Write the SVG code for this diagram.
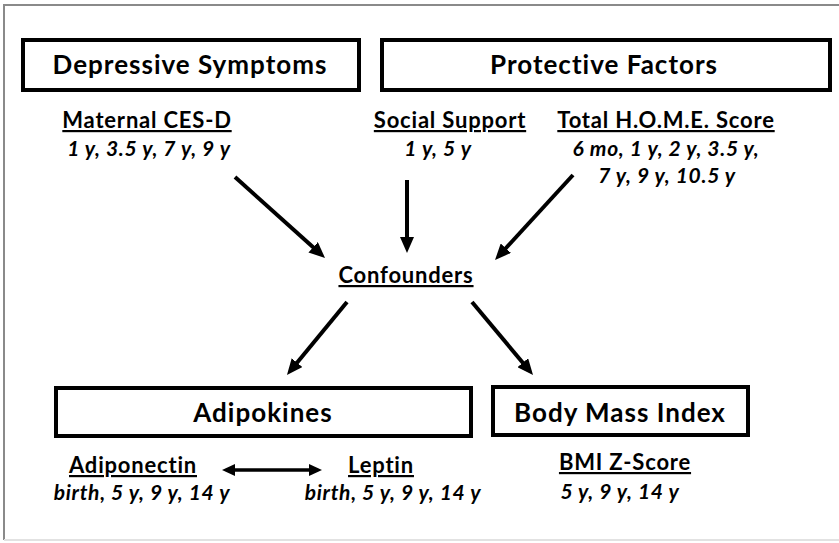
<svg xmlns="http://www.w3.org/2000/svg" width="839" height="543" viewBox="0 0 839 543">
<defs>
<style>
.box{fill:#fff;stroke:#000;stroke-width:4}
.title{font-family:Lato,"Open Sans",sans-serif;font-weight:bold;font-size:26px;letter-spacing:1px;fill:#000;text-anchor:middle}
.lab{font-family:Lato,"Open Sans",sans-serif;font-weight:bold;font-size:22px;letter-spacing:0.8px;fill:#000;text-anchor:middle;text-decoration:underline}
.sub{font-family:Lato,"Open Sans",sans-serif;font-weight:bold;font-style:italic;font-size:21px;letter-spacing:0.7px;fill:#000;text-anchor:middle}
.conn line{stroke:#000;stroke-width:4;fill:none}
</style>
<marker id="ah" viewBox="0 0 16 14" refX="6" refY="7" markerWidth="16" markerHeight="14" markerUnits="userSpaceOnUse" orient="auto-start-reverse">
<path d="M0,0 L16,7 L0,14 Z" fill="#000"/>
</marker>
<marker id="ah2" viewBox="0 0 13 12" refX="5" refY="6" markerWidth="13" markerHeight="12" markerUnits="userSpaceOnUse" orient="auto-start-reverse">
<path d="M0,0 L13,6 L0,12 Z" fill="#000"/>
</marker>
</defs>
<rect x="0" y="0" width="839" height="543" fill="#fff"/>
<path d="M839,5 H4 V540" fill="none" stroke="#8a8a8a" stroke-width="2"/>
<path d="M4,540 H839" fill="none" stroke="#e2e2e2" stroke-width="2"/>
<g id="depressive">
<rect class="box" x="23" y="40" width="336" height="50"/>
<text class="title" x="190" y="74">Depressive Symptoms</text>
</g>
<g id="protective">
<rect class="box" x="382" y="40" width="448" height="50"/>
<text class="title" x="604" y="74">Protective Factors</text>
</g>
<g id="cesd">
<text class="lab" x="147" y="128">Maternal CES-D</text>
<text class="sub" x="149" y="156">1 y, 3.5 y, 7 y, 9 y</text>
</g>
<g id="social">
<text class="lab" x="450" y="128">Social Support</text>
<text class="sub" x="438" y="156">1 y, 5 y</text>
</g>
<g id="home">
<text class="lab" x="666" y="128">Total H.O.M.E. Score</text>
<text class="sub" x="666" y="156">6 mo, 1 y, 2 y, 3.5 y,</text>
<text class="sub" x="667" y="183">7 y, 9 y, 10.5 y</text>
</g>
<g id="confounders">
<text class="lab" x="406" y="283">Confounders</text>
</g>
<g id="adipokines">
<rect class="box" x="56" y="388" width="415" height="48"/>
<text class="title" x="263" y="422">Adipokines</text>
</g>
<g id="bmi">
<rect class="box" x="493" y="387" width="255" height="48"/>
<text class="title" x="620" y="422">Body Mass Index</text>
</g>
<g id="adiponectin">
<text class="lab" x="133" y="473">Adiponectin</text>
<text class="sub" x="142" y="500">birth, 5 y, 9 y, 14 y</text>
</g>
<g id="leptin">
<text class="lab" x="381" y="473">Leptin</text>
<text class="sub" x="393" y="500">birth, 5 y, 9 y, 14 y</text>
</g>
<g id="bmiz">
<text class="lab" x="625" y="470">BMI Z-Score</text>
<text class="sub" x="620" y="499">5 y, 9 y, 14 y</text>
</g>
<g class="conn" id="connectors">
<line x1="235" y1="177" x2="317.6" y2="251.3" marker-end="url(#ah)"/>
<line x1="407" y1="180" x2="407" y2="243" marker-end="url(#ah)"/>
<line x1="573" y1="175" x2="501.8" y2="252.6" marker-end="url(#ah)"/>
<line x1="347" y1="302" x2="293.3" y2="367.3" marker-end="url(#ah)"/>
<line x1="472" y1="302" x2="526.6" y2="367.3" marker-end="url(#ah)"/>
<line x1="230" y1="470" x2="314" y2="470" style="stroke-width:3.5" marker-start="url(#ah2)" marker-end="url(#ah2)"/>
</g>
</svg>
